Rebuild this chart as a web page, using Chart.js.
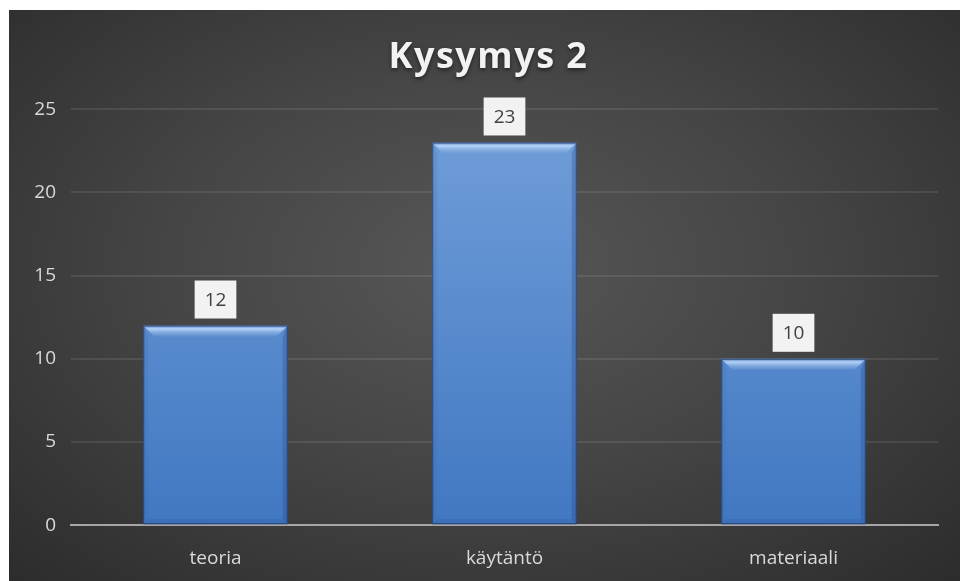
<!DOCTYPE html>
<html>
<head>
<meta charset="utf-8">
<script src="https://cdn.jsdelivr.net/npm/chart.js@4"></script>
<style>
  html, body { margin: 0; padding: 0; background: #fff; }
  #wrap {
    position: absolute; left: 9px; top: 10px; width: 951px; height: 571px;
    background: radial-gradient(ellipse 75% 80% at 50% 45%, #575757 0%, #454545 45%, #2a2a2a 100%);
  }
</style>
</head>
<body>
<div id="wrap"><canvas id="c"></canvas></div>
<script>
const categories = ['teoria', 'käytäntö', 'materiaali'];
const values = [12, 23, 10];
const title = 'Kysymys 2';
const FONT = '"Open Sans", Lato, sans-serif';

// bevel + value boxes drawn over the bar elements
const bevel = {
  id: 'bevel',
  afterDatasetsDraw(chart) {
    const ctx = chart.ctx;
    chart.getDatasetMeta(0).data.forEach((bar, i) => {
      const l = bar.x - bar.width / 2, r = bar.x + bar.width / 2;
      const t = bar.y, b = bar.base, e = 11;
      ctx.save();
      // top bevel
      let g = ctx.createLinearGradient(0, t, 0, t + e);
      g.addColorStop(0, 'rgba(90,130,190,0.9)');
      g.addColorStop(0.3, 'rgba(185,215,250,0.95)');
      g.addColorStop(1, 'rgba(120,160,215,0.3)');
      ctx.fillStyle = g;
      ctx.beginPath();
      ctx.moveTo(l, t); ctx.lineTo(r, t); ctx.lineTo(r - e, t + e); ctx.lineTo(l + e, t + e); ctx.closePath();
      ctx.fill();
      // left edge
      ctx.fillStyle = 'rgba(60,100,170,0.15)';
      ctx.beginPath();
      ctx.moveTo(l, t); ctx.lineTo(l + 5, t + e); ctx.lineTo(l + 5, b - 5); ctx.lineTo(l, b); ctx.closePath();
      ctx.fill();
      // right edge
      ctx.fillStyle = 'rgba(30,60,120,0.25)';
      ctx.beginPath();
      ctx.moveTo(r, t); ctx.lineTo(r - 5, t + e); ctx.lineTo(r - 5, b - 5); ctx.lineTo(r, b); ctx.closePath();
      ctx.fill();
      // bottom edge
      ctx.fillStyle = 'rgba(30,60,120,0.15)';
      ctx.beginPath();
      ctx.moveTo(l, b); ctx.lineTo(r, b); ctx.lineTo(r - 5, b - 5); ctx.lineTo(l + 5, b - 5); ctx.closePath();
      ctx.fill();
      ctx.strokeStyle = 'rgba(30,50,90,0.7)';
      ctx.lineWidth = 1;
      ctx.strokeRect(l + 0.5, t + 0.5, bar.width - 1, b - t - 1);

      // value label box
      const txt = String(values[i]);
      ctx.font = '19px ' + FONT;
      const w = ctx.measureText(txt).width + 20, h = 38;
      ctx.fillStyle = '#f2f2f2';
      ctx.fillRect(bar.x - w / 2, t - 7 - h, w, h);
      ctx.fillStyle = '#404040';
      ctx.textAlign = 'center';
      ctx.textBaseline = 'middle';
      ctx.fillText(txt, bar.x, t - 7 - h / 2 + 1);
      ctx.restore();
    });
  }
};

// letter spacing + soft shadow on the title only
const titleStyle = {
  id: 'titleStyle',
  afterInit(chart) {
    const tb = chart.titleBlock;
    const orig = tb.draw.bind(tb);
    tb.draw = function () {
      const ctx = chart.ctx;
      ctx.save();
      ctx.translate(15, 2);
      ctx.letterSpacing = '1.5px';
      ctx.shadowColor = 'rgba(0,0,0,0.55)';
      ctx.shadowBlur = 4;
      ctx.shadowOffsetY = 2;
      orig();
      ctx.restore();
    };
  }
};

new Chart(document.getElementById('c'), {
  type: 'bar',
  data: {
    labels: categories,
    datasets: [{
      data: values,
      backgroundColor(ctx) {
        const a = ctx.chart.chartArea;
        if (!a) return '#5b8ad0';
        const g = ctx.chart.ctx.createLinearGradient(0, a.top, 0, a.bottom);
        g.addColorStop(0, '#729fd9');
        g.addColorStop(1, '#4178c2');
        return g;
      },
      borderWidth: 0,
      categoryPercentage: 1,
      barPercentage: 0.5
    }]
  },
  options: {
    responsive: true,
    maintainAspectRatio: false,
    animation: false,
    layout: { padding: { top: 0, right: 22, bottom: -11, left: 0 } },
    plugins: {
      legend: { display: false },
      tooltip: { enabled: false },
      title: {
        display: true,
        text: title,
        color: '#f2f2f2',
        font: { family: FONT, size: 36, weight: 'bold' },
        padding: { top: 24, bottom: 32 }
      }
    },
    scales: {
      x: {
        grid: { display: false, drawTicks: false },
        border: { color: '#a6a6a6', width: 2 },
        ticks: { color: '#d9d9d9', font: { family: FONT, size: 19 }, padding: 22 }
      },
      y: {
        min: 0, max: 25,
        ticks: { stepSize: 5, color: '#d9d9d9', font: { family: FONT, size: 19 }, padding: 15 },
        grid: {
          color: ctx => ctx.index === 0 ? 'rgba(0,0,0,0)' : 'rgba(255,255,255,0.09)',
          lineWidth: 2,
          drawTicks: false
        },
        border: { display: false },
        afterFit(scale) { scale.width = 62; }
      }
    }
  },
  plugins: [bevel, titleStyle]
});
</script>
</body>
</html>
